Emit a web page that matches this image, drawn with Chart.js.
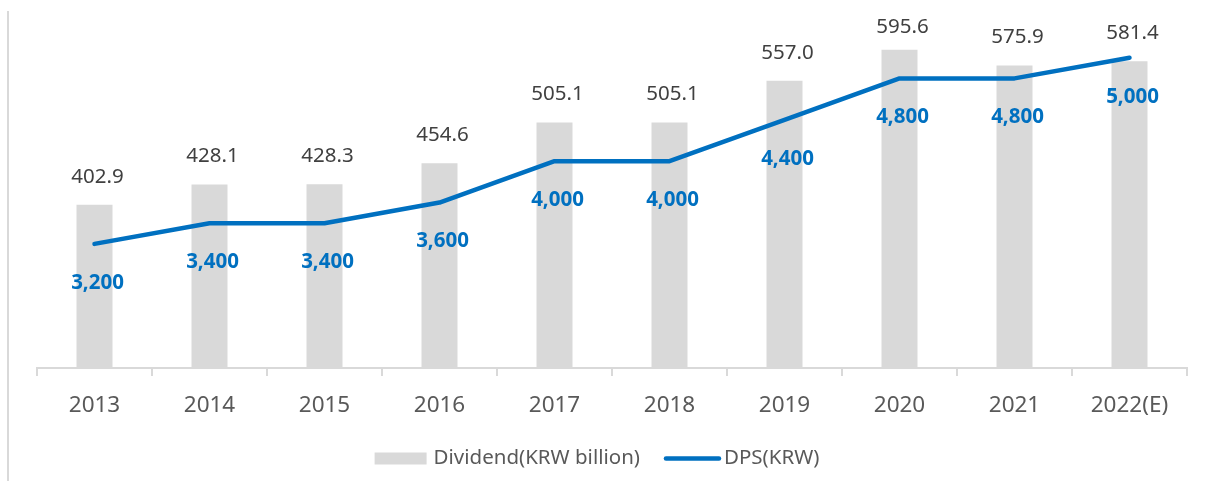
<!DOCTYPE html>
<html>
<head>
<meta charset="utf-8">
<script src="https://cdn.jsdelivr.net/npm/chart.js@4.4.1/dist/chart.umd.min.js"></script>
<style>
  html, body { margin: 0; padding: 0; background: #ffffff; }
  #wrap { position: relative; width: 1211px; height: 481px; }
  #frame { position: absolute; left: 7px; top: 11px; height: 470px; border-left: 2px solid #d9d9d9; }
  canvas { position: absolute; left: 0; top: 0; }
</style>
</head>
<body>
<div id="wrap">
  <div id="frame"></div>
  <canvas id="c" width="1211" height="481"></canvas>
</div>
<script>
const categories = ['2013', '2014', '2015', '2016', '2017', '2018', '2019', '2020', '2021', '2022(E)'];
const dividend = [402.9, 428.1, 428.3, 454.6, 505.1, 505.1, 557.0, 595.6, 575.9, 581.4];
const dps = [3200, 3400, 3400, 3600, 4000, 4000, 4400, 4800, 4800, 5000];
const seriesNames = ['Dividend(KRW billion)', 'DPS(KRW)'];

const FONT = '"Noto Sans", "Open Sans", sans-serif';
const GRAY_BAR = '#d9d9d9';
const BLUE = '#0070c0';

const labelPlugin = {
  id: 'valueLabels',
  afterDatasetsDraw(chart) {
    const ctx = chart.ctx;
    ctx.save();
    ctx.textAlign = 'center';
    ctx.textBaseline = 'middle';
    const barMeta = chart.getDatasetMeta(0);
    ctx.font = '20.5px ' + FONT;
    ctx.fillStyle = '#404040';
    barMeta.data.forEach((el, i) => {
      const y = Math.max(el.y - 28, 27);
      ctx.fillText(dividend[i].toFixed(1), el.x + 3, y);
    });
    const lineMeta = chart.getDatasetMeta(1);
    ctx.font = 'bold 20.5px ' + FONT;
    ctx.fillStyle = BLUE;
    lineMeta.data.forEach((el, i) => {
      ctx.fillText(dps[i].toLocaleString('en-US'), el.x + 3, el.y + 39);
    });
    ctx.restore();
  }
};

const legendPlugin = {
  id: 'customLegend',
  afterDraw(chart) {
    const ctx = chart.ctx;
    ctx.save();
    ctx.font = '20.5px ' + FONT;
    ctx.textBaseline = 'middle';
    ctx.textAlign = 'left';
    const w1 = ctx.measureText(seriesNames[0]).width;
    const w2 = ctx.measureText(seriesNames[1]).width;
    const boxW = 52, gap1 = 7, gapMid = 24, lineW = 57, gap2 = 3;
    const total = boxW + gap1 + w1 + gapMid + lineW + gap2 + w2;
    const cy = 458.5;
    let x = 597 - total / 2;
    ctx.fillStyle = GRAY_BAR;
    ctx.fillRect(x, cy - 6, boxW, 12);
    x += boxW + gap1;
    ctx.fillStyle = '#595959';
    ctx.fillText(seriesNames[0], x, cy);
    x += w1 + gapMid;
    ctx.strokeStyle = BLUE;
    ctx.lineWidth = 4.5;
    ctx.lineCap = 'round';
    ctx.beginPath();
    ctx.moveTo(x + 2, cy);
    ctx.lineTo(x + lineW - 2, cy);
    ctx.stroke();
    x += lineW + gap2;
    ctx.fillStyle = '#595959';
    ctx.fillText(seriesNames[1], x, cy);
    ctx.restore();
  }
};

new Chart(document.getElementById('c'), {
  type: 'bar',
  data: {
    labels: categories,
    datasets: [
      {
        type: 'bar',
        label: seriesNames[0],
        data: dividend,
        backgroundColor: GRAY_BAR,
        borderWidth: 0,
        categoryPercentage: 1,
        barPercentage: 0.313,
        yAxisID: 'y',
        order: 1
      },
      {
        type: 'line',
        label: seriesNames[1],
        data: dps,
        borderColor: BLUE,
        borderWidth: 4.5,
        borderCapStyle: 'round',
        borderJoinStyle: 'round',
        tension: 0,
        pointRadius: 0,
        pointHoverRadius: 0,
        fill: false,
        yAxisID: 'y1',
        order: 0
      }
    ]
  },
  options: {
    responsive: false,
    animation: false,
    devicePixelRatio: 1,
    layout: { padding: { left: 37, right: 24, top: 6, bottom: 0 } },
    plugins: {
      legend: { display: false },
      tooltip: { enabled: false }
    },
    scales: {
      x: {
        offset: true,
        grid: {
          offset: true,
          drawOnChartArea: false,
          drawTicks: true,
          tickLength: 8,
          color: '#d9d9d9',
          lineWidth: 2
        },
        border: { display: true, color: '#d9d9d9', width: 2 },
        ticks: {
          color: '#595959',
          font: { family: FONT, size: 22.5 },
          padding: 16,
          maxRotation: 0
        },
        afterFit(scale) { scale.height = 113; }
      },
      y: {
        display: false,
        min: 200,
        max: 650
      },
      y1: {
        display: false,
        position: 'right',
        min: 2000,
        max: 5500
      }
    }
  },
  plugins: [labelPlugin, legendPlugin]
});
</script>
</body>
</html>
